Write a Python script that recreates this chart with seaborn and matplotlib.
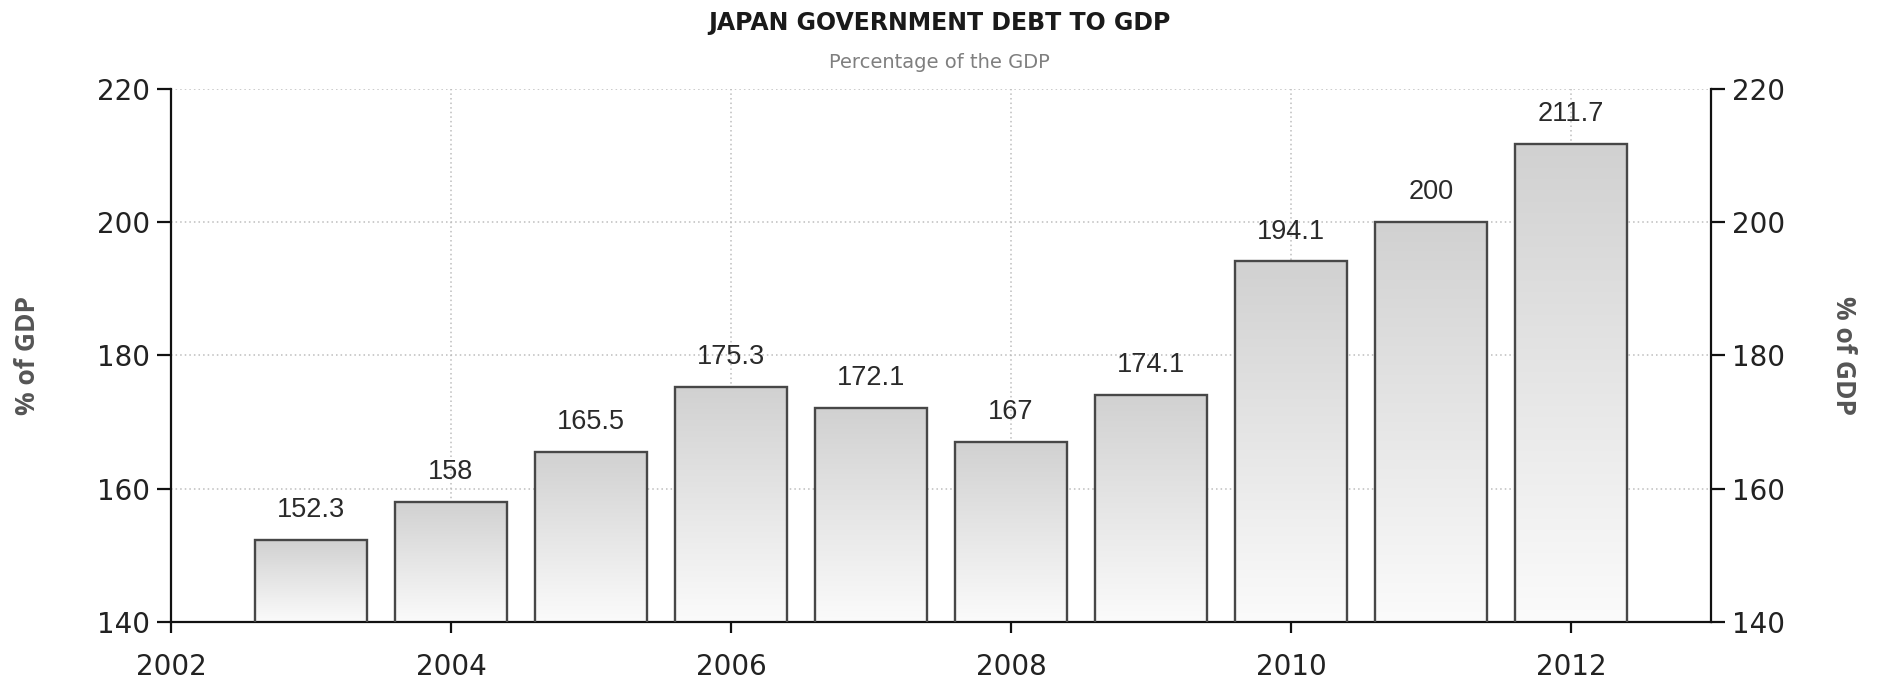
import numpy as np
import pandas as pd
import matplotlib
matplotlib.use("Agg")
import matplotlib.pyplot as plt
import seaborn as sns

# Japan government debt, percentage of GDP
years = [2003, 2004, 2005, 2006, 2007, 2008, 2009, 2010, 2011, 2012]
debt_pct = [152.3, 158, 165.5, 175.3, 172.1, 167, 174.1, 194.1, 200, 211.7]

x_ticks = [2002, 2004, 2006, 2008, 2010, 2012]
x_tick_labels = ["2002", "2004", "2006", "2008", "2010", "2012"]
y_ticks = [140, 160, 180, 200, 220]
y_tick_labels = ["140", "160", "180", "200", "220"]

title = "JAPAN GOVERNMENT DEBT TO GDP"
subtitle = "Percentage of the GDP"
axis_label = "% of GDP"

sns.set_theme(style="white")
plt.rcParams["font.family"] = ["DejaVu Sans"]

df = pd.DataFrame({"year": years, "debt": debt_pct})

fig = plt.figure(figsize=(18.79, 6.83), dpi=100)
ax = fig.add_axes([0.091, 0.0893, 0.8196, 0.7807])

sns.barplot(data=df, x="year", y="debt", native_scale=True, width=0.8,
            color="#d8d8d8", edgecolor="#474747", linewidth=1.7, ax=ax,
            zorder=3)

ymin, ymax = 140, 220
ax.set_xlim(2002, 2013)
ax.set_ylim(ymin, ymax)

# vertical gradient inside every bar: grey at the top fading to white
grad = np.linspace(0, 1, 256).reshape(-1, 1)
cmap = matplotlib.colors.LinearSegmentedColormap.from_list(
    "barfade", ["#fbfbfb", "#d1d1d1"])
for patch in ax.patches:
    x0 = patch.get_x()
    w = patch.get_width()
    top = patch.get_y() + patch.get_height()
    patch.set_facecolor("none")
    im = ax.imshow(grad, cmap=cmap, aspect="auto", origin="lower",
                   extent=[x0, x0 + w, ymin, top], zorder=2.5,
                   interpolation="bilinear")
    im.set_clip_path(patch)

ax.set_xlim(2002, 2013)
ax.set_ylim(ymin, ymax)

# value labels above each bar
for yr, val in zip(years, debt_pct):
    ax.annotate(f"{val:g}", xy=(yr, val), xytext=(0, 12),
                textcoords="offset points", ha="center", va="bottom",
                fontsize=19.5, color="#2a2a2a", family="Liberation Sans",
                zorder=5)

# grid
ax.set_axisbelow(True)
ax.grid(True, axis="both", color="#bdbdbd", linestyle=(0, (1, 2)),
        linewidth=1.1)

ax.set_xticks(x_ticks)
ax.set_xticklabels(x_tick_labels)
ax.set_yticks(y_ticks)
ax.set_yticklabels(y_tick_labels)
ax.set_xlabel("")
ax.set_ylabel(axis_label, fontsize=19, fontweight="bold", color="#555555",
              family="Open Sans", labelpad=40)

for side in ["top", "right"]:
    ax.spines[side].set_visible(False)
for side in ["left", "bottom"]:
    ax.spines[side].set_color("#111111")
    ax.spines[side].set_linewidth(1.6)

ax.tick_params(axis="y", direction="out", length=10, width=1.6,
               color="#111111", labelsize=20, labelcolor="#222222", pad=5,
               left=True)
ax.tick_params(axis="x", direction="out", length=8, width=1.6,
               color="#111111", labelsize=20, labelcolor="#222222", pad=14,
               bottom=True)

# mirrored axis on the right
ax2 = ax.twinx()
ax2.set_ylim(ymin, ymax)
ax2.set_yticks(y_ticks)
ax2.set_yticklabels(y_tick_labels)
ax2.grid(False)
for side in ["top", "left", "bottom"]:
    ax2.spines[side].set_visible(False)
ax2.spines["right"].set_color("#111111")
ax2.spines["right"].set_linewidth(1.6)
ax2.tick_params(axis="y", direction="out", length=10, width=1.6,
                color="#111111", labelsize=20, labelcolor="#222222", pad=5,
                right=True)
ax2.set_ylabel(axis_label, fontsize=19, fontweight="bold", color="#555555",
               family="Open Sans", rotation=270, labelpad=52)

fig.text(0.5, 0.966, title, ha="center", va="center", fontsize=17,
         fontweight="bold", color="#1a1a1a")
fig.text(0.5, 0.908, subtitle, ha="center", va="center", fontsize=14,
         color="#7f7f7f")

fig.savefig("out.png", dpi=100)
